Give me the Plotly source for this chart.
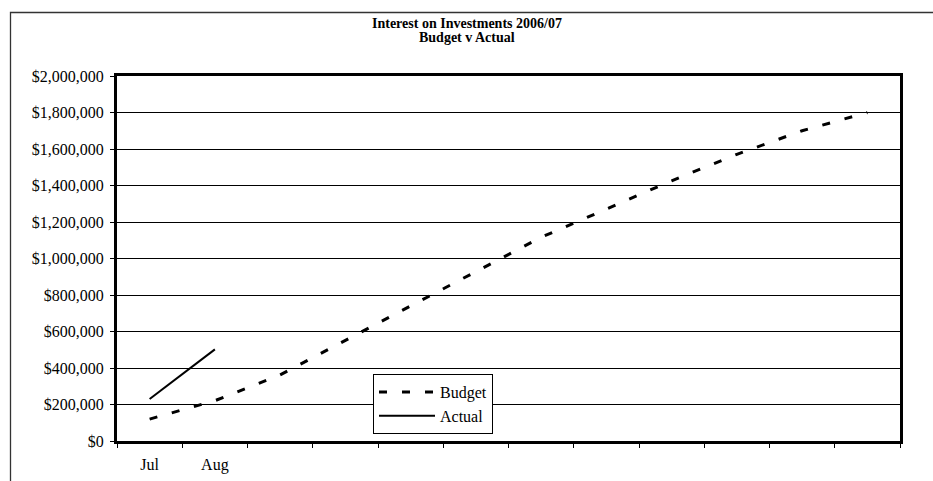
import plotly.graph_objects as go

months = ["Jul", "Aug", "Sep", "Oct", "Nov", "Dec", "Jan", "Feb", "Mar", "Apr", "May", "Jun"]
tick_labels = ["Jul", "Aug", "", "", "", "", "", "", "", "", "", ""]
budget = [120000, 221000, 362000, 553000, 740000, 928000, 1116000, 1271000, 1426000, 1571000, 1700000, 1800000]
actual_months = ["Jul", "Aug"]
actual = [230000, 502000]

FONT = "Liberation Serif, Times New Roman, serif"

fig = go.Figure()
fig.add_trace(go.Scatter(x=months, y=budget, mode="lines", name="Budget",
                         line=dict(color="black", width=3, dash="8px,15px")))
fig.add_trace(go.Scatter(x=actual_months, y=actual, mode="lines", name="Actual",
                         line=dict(color="black", width=2)))

L, R, T, B = 117, 33, 76, 40
W, H = 933, 481
pw = W - L - R
ph = H - T - B

def px_x(x):
    return (x - L) / pw

def px_y(y):
    return (H - B - y) / ph

fig.update_layout(
    width=W, height=H,
    margin=dict(l=L, r=R, t=T, b=B, autoexpand=False),
    paper_bgcolor="white", plot_bgcolor="white",
    font=dict(family=FONT, size=16, color="black"),
    showlegend=True,
    hovermode=False,
    legend=dict(x=px_x(373), y=px_y(374), xanchor="left", yanchor="top",
                bgcolor="white", bordercolor="black", borderwidth=1, itemwidth=56,
                font=dict(family=FONT, size=16, color="black")),
    xaxis=dict(type="category", categoryorder="array", categoryarray=months,
               range=[-0.5, 11.5], tickmode="array", tickvals=months, ticktext=tick_labels,
               tickson="boundaries", ticks="outside", ticklen=4, tickcolor="black", tickwidth=1,
               showgrid=False, showline=True, linecolor="black", linewidth=3, mirror=True,
               automargin=False,
               ticklabelstandoff=7, tickfont=dict(family=FONT, size=16, color="black")),
    yaxis=dict(range=[0, 2000000], dtick=200000, tick0=0, tickprefix="$", tickformat=",d",
               ticks="outside", ticklen=4, tickcolor="black", tickwidth=1,
               showgrid=True, gridcolor="black", gridwidth=1, zeroline=False,
               showline=True, linecolor="black", linewidth=3, mirror=True,
               automargin=False,
               ticklabelstandoff=3, tickfont=dict(family=FONT, size=16, color="black")),
    annotations=[
        dict(text="<b>Interest on Investments 2006/07</b>", xref="paper", yref="paper",
             x=px_x(466.5), y=px_y(23), xanchor="center", yanchor="middle", showarrow=False,
             font=dict(family=FONT, size=14, color="black")),
        dict(text="<b>Budget v Actual</b>", xref="paper", yref="paper",
             x=px_x(466.5), y=px_y(38), xanchor="center", yanchor="middle", showarrow=False,
             font=dict(family=FONT, size=14, color="black")),
    ],
    shapes=[
        dict(type="rect", xref="paper", yref="paper", layer="below",
             x0=px_x(10.5), x1=px_x(960), y0=px_y(500), y1=px_y(12.5),
             line=dict(color="#333333", width=1.3), fillcolor="rgba(0,0,0,0)"),
    ],
)

fig.write_html("out.html")
